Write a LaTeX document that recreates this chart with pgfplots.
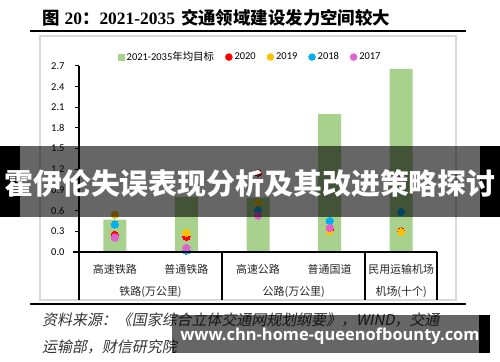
\documentclass[border=0pt]{standalone}
\usepackage{fontspec}
\usepackage{pgfplots}
\pgfplotsset{compat=1.18}
\setmainfont{Carlito}
\newfontfamily\cjk{Noto Sans CJK SC}
\newfontfamily\cjkit{Noto Sans CJK SC}[FakeSlant=0.2]
\newfontfamily\serifb{Liberation Serif}
\newfontfamily\wmfont{Open Sans}
\XeTeXlinebreaklocale "zh"
\XeTeXlinebreakskip=0pt plus 3pt
\definecolor{bargreen}{HTML}{A9D18E}
\definecolor{c20}{HTML}{FF0000}
\definecolor{c19}{HTML}{FFC000}
\definecolor{c18}{HTML}{00B0F0}
\definecolor{c17}{HTML}{E060D0}
\definecolor{framegray}{HTML}{D9D9D9}
\begin{document}
\begin{tikzpicture}
\path[use as bounding box] (0,0) rectangle (500bp,362bp);
\begin{axis}[
  at={(79bp,110bp)}, anchor=south west,
  scale only axis, width=358bp, height=186bp,
  xmin=-0.5, xmax=4.5, ymin=0, ymax=2.7,
  axis lines*=left,
  x axis line style={draw=none},
  y axis line style={line width=1.5bp, black},
  xtick=\empty,
  ytick={0,0.3,0.6,0.9,1.2,1.5,1.8,2.1,2.4,2.7},
  tick align=outside, major tick length=4bp,
  ytick style={line width=1bp, black},
  /pgf/number format/assume math mode=true,
  yticklabel style={/pgf/number format/fixed, /pgf/number format/fixed zerofill, /pgf/number format/precision=1, font=\fontsize{10.5}{12}\selectfont, xshift=-7bp},
  clip=false,
  legend columns=5,
  legend style={at={(0.478,1.048)}, anchor=center, draw=none, fill=none, font=\fontsize{10.5}{12}\selectfont,
    /tikz/every even column/.append style={column sep=9bp}},
]
\addplot[ybar, bar width=23bp, fill=bargreen, draw=none,
  legend image code/.code={\fill[bargreen] (0bp,-3.5bp) rectangle (7bp,3.5bp);}]
  coordinates {(0,0.47) (1,0.80) (2,0.79) (3,2.00) (4,2.66)};
\addlegendentry{2021-2035{\cjk 年均目标}}
\addplot[only marks, color=c20, mark=*, mark size=3.6bp, mark options={fill=c20, draw=c20, line width=0pt},
  legend image code/.code={\fill[c20] (3.5bp,0) circle (3.5bp);}]
  coordinates {(0,0.25) (1,0.22) (2,1.15) (3,0.32) (4,0.30)};
\addlegendentry{2020}
\addplot[only marks, color=c19, mark=*, mark size=3.6bp, mark options={fill=c19, draw=c19, line width=0pt},
  legend image code/.code={\fill[c19] (3.5bp,0) circle (3.5bp);}]
  coordinates {(0,0.54) (1,0.28) (2,0.71) (3,0.30) (4,0.29)};
\addlegendentry{2019}
\addplot[only marks, color=c18, mark=*, mark size=3.6bp, mark options={fill=c18, draw=c18, line width=0pt},
  legend image code/.code={\fill[c18] (3.5bp,0) circle (3.5bp);}]
  coordinates {(0,0.40) (1,0.02) (2,0.61) (3,0.45) (4,0.58)};
\addlegendentry{2018}
\addplot[only marks, color=c17, mark=*, mark size=3.6bp, mark options={fill=c17, draw=c17, line width=0pt},
  legend image code/.code={\fill[c17] (3.5bp,0) circle (3.5bp);}]
  coordinates {(0,0.21) (1,0.06) (2,0.53) (3,0.35) (4,1.10)};
\addlegendentry{2017}
\end{axis}
\begin{scope}[x=1bp, y=-1bp, yshift=362bp]
  % frame
  \draw[framegray, line width=1.5bp] (40,36) rectangle (456,300);
  % rules
  \draw[black, line width=2bp] (30,31) -- (466,31);
  \draw[black, line width=2bp] (30,304) -- (466,304);
  % x axis and separators
  \draw[black, line width=1.5bp] (73,252) -- (437,252);
  \draw[black, line width=1.5bp] (79,252) -- (79,300);
  \draw[black, line width=1.5bp] (222,252) -- (222,300);
  \draw[black, line width=1.5bp] (365,252) -- (365,300);
  \draw[black, line width=1.5bp] (437,252) -- (437,300);
  % category labels
  \begin{scope}[every node/.style={font=\cjk\fontsize{11}{13}\selectfont, text=black!85}]
  \node at (114.8,269) {高速铁路};
  \node at (186.4,269) {普通铁路};
  \node at (258,269) {高速公路};
  \node at (329.6,269) {普通国道};
  \node at (401.2,269) {民用运输机场};
  \node at (150.6,292) {铁路(万公里)};
  \node at (293.8,292) {公路(万公里)};
  \node at (401.2,292) {机场(十个)};
  \end{scope}
  % title
  \node[anchor=west, inner sep=0] at (42,18) {\cjk\bfseries\fontsize{17.5}{19}\selectfont 图\hspace{5bp}{\serifb\bfseries 20}：{\serifb\bfseries 2021-2035}\hspace{6bp}交通领域建设发力空间较大};
  % source
  \node[anchor=west, inner sep=0, text=black!80] at (42,320) {\makebox[415bp][s]{\cjkit\fontsize{15}{17}\selectfont 资料来源：《国家综合立体交通网规划纲要》，WIND，交通}};
  \node[anchor=west, inner sep=0, text=black!80] at (42,347) {\cjkit\fontsize{15}{17}\selectfont 运输部，财信研究院};
  % banner
  \fill[black, opacity=0.6] (20,146) rectangle (480,217);
  \fill[black] (0,146) rectangle (20,217);
  \fill[black] (480,146) rectangle (500,217);
  \node[text=white, inner sep=0] at (250,183) {\cjk\bfseries\fontsize{29}{31}\selectfont 霍伊伦失误表现分析及其改进策略探讨};
  % watermark
  \fill[black, opacity=0.6] (172,315) rectangle (479,353);
  \fill[black] (479,315) rectangle (490,353);
  \node[text=white, inner sep=0] at (330,336) {\wmfont\bfseries\fontsize{16.5}{18}\selectfont www.chn-home-queenofbounty.com};
\end{scope}
\end{tikzpicture}
\end{document}
